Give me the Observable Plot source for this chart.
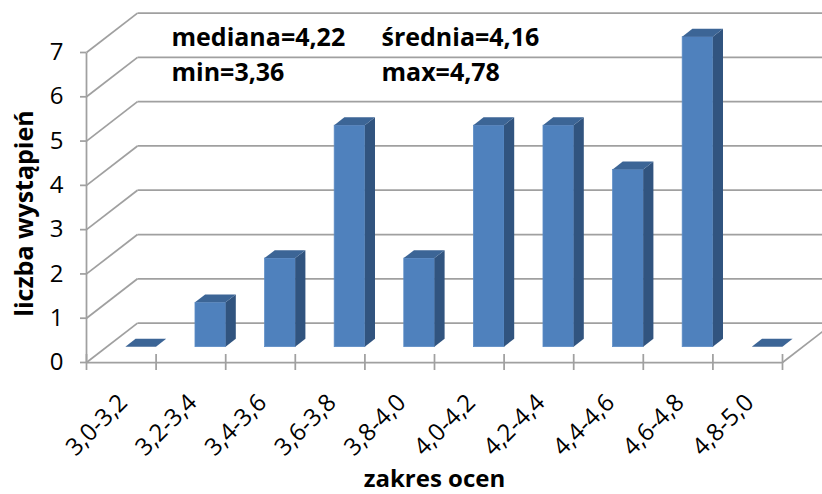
<!DOCTYPE html>
<html><head><meta charset="utf-8">
<script src="https://cdn.jsdelivr.net/npm/d3@7"></script>
<script src="https://cdn.jsdelivr.net/npm/@observablehq/plot@0.6"></script>
<style>html,body{margin:0;padding:0;background:#fff;} svg{display:block;}</style>
</head><body><div id="chart"></div>
<script>
// ---- data ----
const categories = ["3,0-3,2","3,2-3,4","3,4-3,6","3,6-3,8","3,8-4,0","4,0-4,2","4,2-4,4","4,4-4,6","4,6-4,8","4,8-5,0"];
const counts = [0, 1, 2, 5, 2, 5, 5, 4, 7, 0];
const yTicks = [0, 1, 2, 3, 4, 5, 6, 7];
const statNames = ["mediana", "średnia", "min", "max"];
const statValues = ["4,22", "4,16", "3,36", "4,78"];
const xTitle = "zakres ocen";
const yTitle = "liczba wystąpień";

// ---- layout ----
const W = 822, H = 494;
const M = {top: 52, right: 40, bottom: 132, left: 86};
const nCat = categories.length;
const yMax = 7;
const depthPx = [51, 39.4];               // 3D depth vector in pixels
const kx = depthPx[0] / ((W - M.left - M.right) / nCat);
const ky = depthPx[1] / ((H - M.top - M.bottom) / yMax);
const P = (i, v, d) => ({x: i + d * kx, y: v + d * ky});
const lo = 0.28, hi = 0.72, d0 = 0.39, d1 = 0.59;

const GRID = "#a0a0a0", FRONT = "#4f81bd", SIDE = "#31547f", TOPC = "#3c6596";
const FONT = "'Open Sans', Lato, sans-serif";

const lines = [
  ...yTicks.map(k => ({a: P(0, k, 1), b: P(nCat, k, 1)})),
  ...yTicks.map(k => ({a: P(0, k, 0), b: P(0, k, 1)})),
  {a: P(0, 0, 0), b: P(nCat, 0, 0)},
  {a: P(nCat, 0, 0), b: P(nCat, 0, 1)},
  {a: P(0, 0, 0), b: P(0, yMax, 0)}
];

const bars = counts.map((v, i) => ({i, v}));
const solid = bars.filter(b => b.v > 0);
const sideFaces = solid.flatMap(b => [d0, d1].map(d => ({i: b.i, x: P(b.i + hi, 0, d).x, y1: P(0, 0, d).y, y2: P(0, b.v, d).y})));
const topFaces = bars.flatMap(b => [d0, d1].map(d => ({i: b.i, y: P(0, b.v, d).y, x1: P(b.i + lo, 0, d).x, x2: P(b.i + hi, 0, d).x})));

const fs = 24, fb = 25;
const cols = [[0, 2], [1, 3]].map(c => c.map(j => `${statNames[j]}=${statValues[j]}`).join("\n"));

const chart = Plot.plot({
  width: W, height: H,
  marginTop: M.top, marginRight: M.right, marginBottom: M.bottom, marginLeft: M.left,
  style: {fontFamily: FONT, background: "#fff", overflow: "hidden"},
  x: {type: "linear", domain: [0, nCat]},
  y: {type: "linear", domain: [0, yMax]},
  marks: [
    Plot.link(lines, {x1: d => d.a.x, y1: d => d.a.y, x2: d => d.b.x, y2: d => d.b.y, stroke: GRID, strokeWidth: 1.75}),
    Plot.axisY({ticks: yTicks, tickFormat: d => String(d), tickSize: 6, tickPadding: 17, fontSize: 24, stroke: GRID, strokeWidth: 1.75, fill: "#000", label: null}),
    Plot.axisX({ticks: d3.range(nCat + 1), tickSize: 16, dy: -8, tickFormat: () => "", stroke: GRID, strokeWidth: 1.75, label: null}),
    Plot.rect(solid, {x1: b => P(b.i + lo, 0, d0).x, x2: b => P(b.i + hi, 0, d0).x, y1: b => P(0, 0, d0).y, y2: b => P(0, b.v, d0).y, fill: FRONT, stroke: "#5b8cc6", strokeWidth: 0.75}),
    Plot.areaY(sideFaces, {x: "x", y1: "y1", y2: "y2", z: "i", fill: SIDE}),
    Plot.areaX(topFaces, {y: "y", x1: "x1", x2: "x2", z: "i", fill: TOPC}),
    Plot.text(categories, {x: (d, i) => i + 0.5, y: () => 0, text: d => d, rotate: -45, textAnchor: "end", lineAnchor: "middle", fontSize: fs, dx: 2, dy: 36, fill: "#000"}),
    Plot.text([yTitle], {frameAnchor: "left", text: d => d, rotate: -90, textAnchor: "middle", lineAnchor: "middle", dx: -62, dy: 6, fontSize: fb, fontWeight: "bold", fill: "#000"}),
    Plot.text([xTitle], {frameAnchor: "bottom", text: d => d, textAnchor: "middle", lineAnchor: "middle", dy: 117, fontSize: 24, fontWeight: "bold", fill: "#000"}),
    Plot.text([cols[0]], {frameAnchor: "top-left", text: d => d, textAnchor: "start", lineAnchor: "top", lineHeight: 35 / fb, dx: 85, dy: -31, fontSize: fb, fontWeight: "bold", fill: "#000"}),
    Plot.text([cols[1]], {frameAnchor: "top-left", text: d => d, textAnchor: "start", lineAnchor: "top", lineHeight: 35 / fb, dx: 295, dy: -31, fontSize: fb, fontWeight: "bold", fill: "#000"})
  ]
});
document.getElementById("chart").appendChild(chart);
</script>
</body></html>
